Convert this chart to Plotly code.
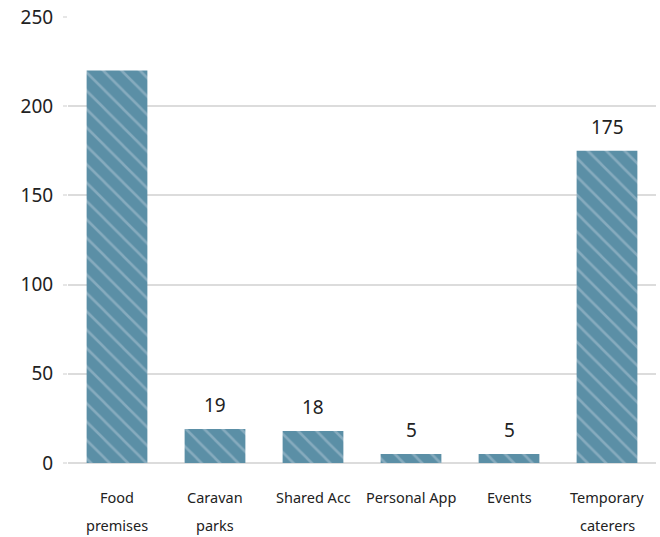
import plotly.graph_objects as go

# Inspection counts by premises type
categories = ["Food premises", "Caravan parks", "Shared Acc", "Personal App", "Events", "Temporary caterers"]
# Axis labels split over lines
category_lines = [["Food", "premises"], ["Caravan", "parks"], ["Shared Acc"],
                  ["Personal App"], ["Events"], ["Temporary", "caterers"]]
counts = [220, 19, 18, 5, 5, 175]
# Value labels shown above bars (none for the first bar)
show_label = [False, True, True, True, True, True]
y_ticks = [0, 50, 100, 150, 200, 250]

bar_color = "#5b8fa6"
stripe_color = "#86abbe"
font_family = "Noto Sans, Open Sans, sans-serif"

fig = go.Figure()
fig.add_trace(go.Bar(
    x=categories,
    y=counts,
    width=0.62,
    marker=dict(
        color=bar_color,
        line=dict(width=0),
        pattern=dict(shape="\\", fgcolor=stripe_color, bgcolor=bar_color,
                     size=13, solidity=0.2, fillmode="replace"),
    ),
    hoverinfo="x+y",
))

for cat, val, show in zip(categories, counts, show_label):
    if show:
        fig.add_annotation(
            x=cat, y=val, text=str(val), showarrow=False,
            yanchor="bottom", yshift=9,
            font=dict(family=font_family, size=19, color="#222222"),
        )

# Category labels, one annotation per line for wider line spacing
for cat, lines in zip(categories, category_lines):
    for i, line in enumerate(lines):
        fig.add_annotation(
            x=cat, xref="x", y=0, yref="paper", text=line, showarrow=False,
            yanchor="middle", yshift=-34 - 28 * i,
            font=dict(family=font_family, size=14.5, color="#222222"),
        )

fig.update_layout(
    width=660, height=537,
    margin=dict(l=68, r=4, t=15, b=74),
    paper_bgcolor="white", plot_bgcolor="white",
    showlegend=False,
    bargap=0.38,
    font=dict(family=font_family, color="#222222"),
)
fig.update_xaxes(
    showgrid=False, showline=False, zeroline=False,
    showticklabels=False, ticks="",
)
fig.update_yaxes(
    range=[0, 250], tickvals=y_ticks,
    showgrid=True, gridcolor="#dcdcdc", gridwidth=2,
    zeroline=True, zerolinecolor="#dcdcdc", zerolinewidth=2,
    showline=False,
    ticks="outside", ticklen=4, tickcolor="#e6e6e6", tickwidth=2,
    tickfont=dict(size=19, color="#222222"),
    ticklabelstandoff=6,
)

fig.write_html("out.html")
